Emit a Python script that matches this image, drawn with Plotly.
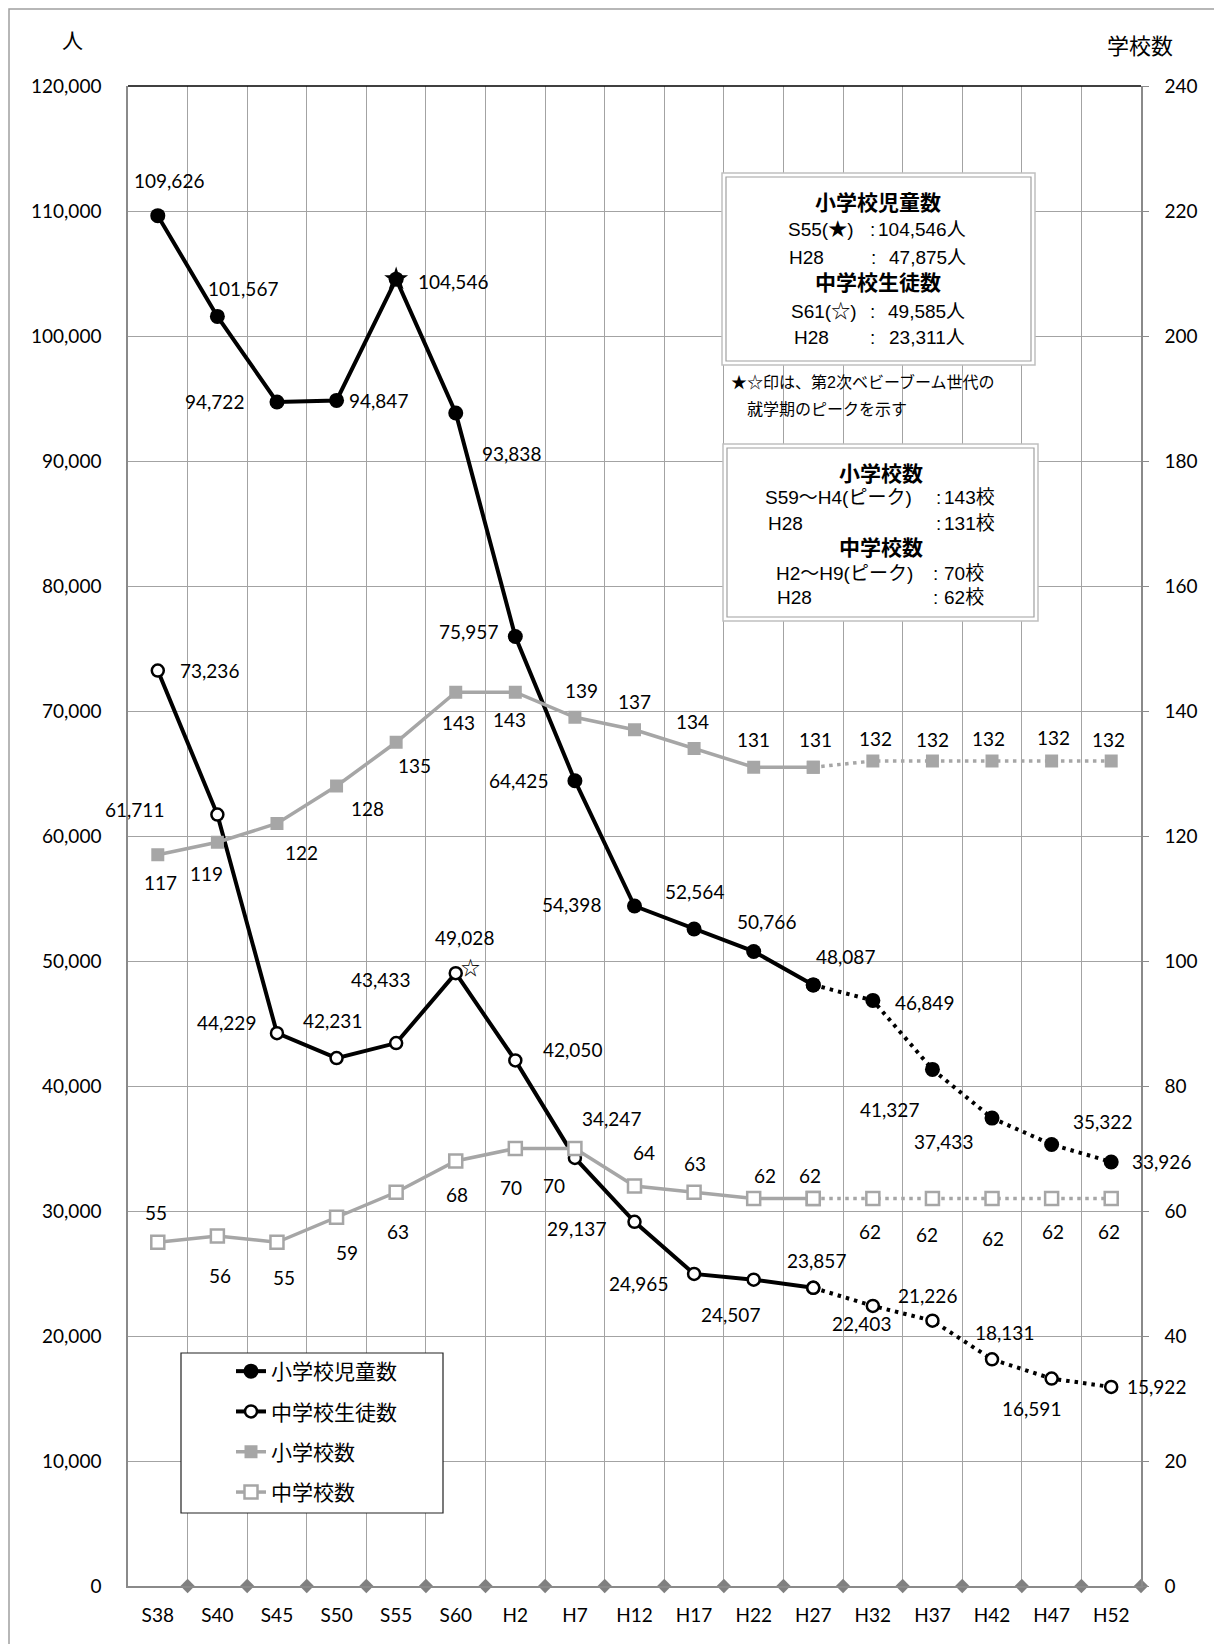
import numpy as np
import plotly.graph_objects as go

# ---- data -------------------------------------------------------------
years = ["S38", "S40", "S45", "S50", "S55", "S60", "H2", "H7", "H12",
         "H17", "H22", "H27", "H32", "H37", "H42", "H47", "H52"]
pupils = [109626, 101567, 94722, 94847, 104546, 93838, 75957, 64425, 54398,
          52564, 50766, 48087, 46849, 41327, 37433, 35322, 33926]
students = [73236, 61711, 44229, 42231, 43433, 49028, 42050, 34247, 29137,
            24965, 24507, 23857, 22403, 21226, 18131, 16591, 15922]
elem_schools = [117, 119, 122, 128, 135, 143, 143, 139, 137, 134, 131, 131,
                132, 132, 132, 132, 132]
junior_schools = [55, 56, 55, 59, 63, 68, 70, 70, 64, 63, 62, 62,
                  62, 62, 62, 62, 62]
last_actual = 11          # H27; later points are projections
pupil_peak = 4            # S55 (★)
student_peak = 5          # S60 (☆ marks the S61 peak next to it)

# ---- label offsets in pixels (dx right, dy down) ------------------------
pupil_off = [(11, -35), (26, -28), (-62, 0), (42, 0), (57, 2), (56, 40),
             (-47, -5), (-56, 0), (-63, -2), (0, -37), (13, -30), (32, -28),
             (52, 2), (-43, 40), (-49, 23), (51, -23), (50, 0)]
student_off = [(52, 0), (-83, -5), (-50, -11), (-4, -38), (-16, -64), (9, -36),
               (57, -11), (37, -39), (-58, 7), (-56, 10), (-23, 35), (3, -27),
               (-11, 18), (-5, -25), (12, -27), (-20, 30), (45, 0)]
elem_off = [(3, 28), (-11, 31), (25, 29), (31, 22), (18, 23), (3, 30),
            (-6, 27), (7, -27), (0, -28), (-2, -27), (0, -28), (2, -28),
            (3, -23), (0, -22), (-4, -23), (2, -24), (-3, -22)]
junior_off = [(-2, -30), (3, 39), (7, 35), (10, 35), (2, 39), (1, 33),
              (-4, 39), (-21, 37), (9, -34), (1, -29), (11, -23), (-3, -23),
              (-3, 33), (-5, 36), (1, 40), (1, 33), (-2, 33)]

# ---- geometry / style ---------------------------------------------------
W, H = 1214, 1644
L, R, T, B = 128, 1141, 86, 1586
NUM_FONT = "Lato, 'Open Sans', sans-serif"
JP_FONT = "'Noto Sans CJK JP', sans-serif"
BOX_FONT = "'Liberation Sans', 'Noto Sans CJK JP', sans-serif"
GRID = "#a3a3a3"
AXIS = "#8a8a8a"
GRAY = "#a6a6a6"
BLACK = "#000000"


def px(x):
    return (x - L) / (R - L)


def py(y):
    return (B - y) / (B - T)


xs = list(range(len(years)))
fig = go.Figure()

series = [
    # name, values, axis, colour, width, marker, projection dash, rank
    ("小学校数", elem_schools, "y2", GRAY, 3.5,
     dict(symbol="square", size=13, color=GRAY), "3.5px,4.5px", 3),
    ("中学校数", junior_schools, "y2", GRAY, 3.5,
     dict(symbol="square", size=13, color="white",
          line=dict(color=GRAY, width=2.5)), "3.5px,4.5px", 4),
    ("小学校児童数", pupils, "y", BLACK, 4,
     dict(symbol="circle", size=15, color=BLACK), "3.5px,5px", 1),
    ("中学校生徒数", students, "y", BLACK, 4,
     dict(symbol="circle", size=12, color="white",
          line=dict(color=BLACK, width=2.5)), "3.5px,5px", 2),
]

for name, vals, yax, col, w, mk, dash, rank in series:
    fig.add_trace(go.Scatter(
        x=xs[:last_actual + 1], y=vals[:last_actual + 1], yaxis=yax,
        mode="lines+markers", name=name, legendgroup=name, legendrank=rank,
        line=dict(color=col, width=w), marker=mk, hoverinfo="skip"))
    fig.add_trace(go.Scatter(
        x=xs[last_actual:], y=vals[last_actual:], yaxis=yax,
        mode="lines+markers", name=name, legendgroup=name, showlegend=False,
        line=dict(color=col, width=w, dash=dash), marker=mk,
        hoverinfo="skip"))

# peak star on the pupil series
fig.add_trace(go.Scatter(
    x=[xs[pupil_peak]], y=[pupils[pupil_peak]], mode="markers",
    marker=dict(symbol="star", size=18, color=BLACK),
    showlegend=False, hoverinfo="skip"))

# diamond marks along the category axis at each boundary
fig.add_trace(go.Scatter(
    x=np.arange(len(years)) + 0.5, y=np.zeros(len(years)), mode="markers",
    marker=dict(symbol="diamond", size=11, color="#808080"),
    cliponaxis=False, showlegend=False, hoverinfo="skip"))

# ---- value labels -------------------------------------------------------
def add_labels(vals, offsets, yref):
    for i, (v, (dx, dy)) in enumerate(zip(vals, offsets)):
        fig.add_annotation(x=xs[i], y=v, xref="x", yref=yref,
                           text=f"{v:,}", showarrow=False,
                           xshift=dx, yshift=-dy,
                           font=dict(family=NUM_FONT, size=19, color=BLACK))


add_labels(pupils, pupil_off, "y")
add_labels(students, student_off, "y")
add_labels(elem_schools, elem_off, "y2")
add_labels(junior_schools, junior_off, "y2")

fig.add_annotation(x=xs[student_peak], y=students[student_peak], xref="x",
                   yref="y", text="☆", showarrow=False, xshift=15, yshift=7,
                   font=dict(family=JP_FONT, size=19, color=BLACK))

# ---- text helpers in pixel space ---------------------------------------
def text_at(x, y, s, size=19, anchor="left", family=BOX_FONT):
    fig.add_annotation(x=px(x), y=py(y), xref="paper", yref="paper",
                       text=s, showarrow=False, xanchor=anchor,
                       yanchor="middle",
                       font=dict(family=family, size=size, color=BLACK))


def double_box(x0, y0, x1, y1):
    fig.add_shape(type="rect", xref="paper", yref="paper", layer="above",
                  x0=px(x0), x1=px(x1), y0=py(y0), y1=py(y1),
                  fillcolor="white", line=dict(color="#c0c0c0", width=1.5))
    fig.add_shape(type="rect", xref="paper", yref="paper", layer="above",
                  x0=px(x0 + 4), x1=px(x1 - 4), y0=py(y0 + 4), y1=py(y1 - 4),
                  line=dict(color="#a0a0a0", width=1.2))


# summary box: pupils / students
double_box(722, 173, 1035, 365)
text_at(878, 203, "<b>小学校児童数</b>", 21, "center")
text_at(786, 230, "S55(★)")
text_at(872, 230, ":", anchor="center")
text_at(968, 230, f"{pupils[pupil_peak]:,}人", anchor="right")
text_at(787, 257, "H28")
text_at(873, 257, ":", anchor="center")
text_at(968, 257, "47,875人", anchor="right")
text_at(878, 283, "<b>中学校生徒数</b>", 21, "center")
text_at(789, 312, "S61(☆)")
text_at(872, 312, ":", anchor="center")
text_at(967, 312, "49,585人", anchor="right")
text_at(792, 337, "H28")
text_at(872, 337, ":", anchor="center")
text_at(967, 337, "23,311人", anchor="right")

text_at(729, 382, "★☆印は、第2次ベビーブーム世代の", 16)
text_at(745, 409, "就学期のピークを示す", 16)

# summary box: schools
double_box(723, 444, 1038, 621)
text_at(881, 473, "<b>小学校数</b>", 21, "center")
text_at(763, 498, "S59～H4(ピーク)")
text_at(938, 498, ":", anchor="center")
text_at(997, 498, f"{elem_schools[5]}校", anchor="right")
text_at(766, 523, "H28")
text_at(938, 523, ":", anchor="center")
text_at(997, 523, "131校", anchor="right")
text_at(881, 547, "<b>中学校数</b>", 21, "center")
text_at(774, 573, "H2～H9(ピーク)")
text_at(935, 573, ":", anchor="center")
text_at(986, 573, f"{junior_schools[6]}校", anchor="right")
text_at(775, 597, "H28")
text_at(935, 597, ":", anchor="center")
text_at(986, 597, "62校", anchor="right")

# axis unit captions
text_at(72, 39, "人", 21, "center", JP_FONT)
text_at(1140, 44, "学校数", 22, "center", JP_FONT)

# legend frame
fig.add_shape(type="rect", xref="paper", yref="paper", layer="above",
              x0=px(181), x1=px(443), y0=py(1353), y1=py(1513),
              fillcolor="white", line=dict(color="#222222", width=1.2))

# top frame line of the plot area and outer chart border
fig.add_shape(type="line", xref="paper", yref="paper", x0=0, x1=1, y0=1, y1=1,
              line=dict(color=BLACK, width=1.5))
fig.add_shape(type="rect", xref="paper", yref="paper", layer="below",
              x0=px(9), x1=px(W + 20), y0=py(9), y1=py(H + 20),
              line=dict(color="#a0a0a0", width=1.5))

# ---- axes / layout -----------------------------------------------------
fig.update_layout(
    width=W, height=H,
    margin=dict(l=L, r=W - R, t=T, b=H - B),
    paper_bgcolor="white", plot_bgcolor="white",
    showlegend=True,
    legend=dict(x=px(231), y=py(1351), xanchor="left", yanchor="top",
                bgcolor="rgba(0,0,0,0)", borderwidth=0, tracegroupgap=10,
                font=dict(family=JP_FONT, size=21, color=BLACK)),
    xaxis=dict(range=[-0.5, len(years) - 0.5], tickmode="array",
               tickvals=xs, ticktext=years, showgrid=False, zeroline=False,
               showline=True, linecolor=AXIS, linewidth=1.5, ticks="",
               ticklabelstandoff=11,
               tickfont=dict(family=NUM_FONT, size=19, color=BLACK),
               minor=dict(tickmode="linear", tick0=0.5, dtick=1,
                          showgrid=True, gridcolor=GRID, gridwidth=1.2,
                          ticks="")),
    yaxis=dict(range=[0, 120000], dtick=10000, tickformat=",",
               showgrid=True, gridcolor=GRID, gridwidth=1.2, zeroline=False,
               showline=True, linecolor=AXIS, linewidth=1.5, ticks="",
               ticklabelstandoff=21,
               tickfont=dict(family=NUM_FONT, size=19, color=BLACK)),
    yaxis2=dict(range=[0, 240], dtick=20, overlaying="y", side="right",
                showgrid=False, zeroline=False, showline=True,
                linecolor=AXIS, linewidth=1.5, ticks="outside", ticklen=6,
                tickcolor=AXIS, ticklabelstandoff=12,
                tickfont=dict(family=NUM_FONT, size=19, color=BLACK)),
)

fig.write_html("out.html")
